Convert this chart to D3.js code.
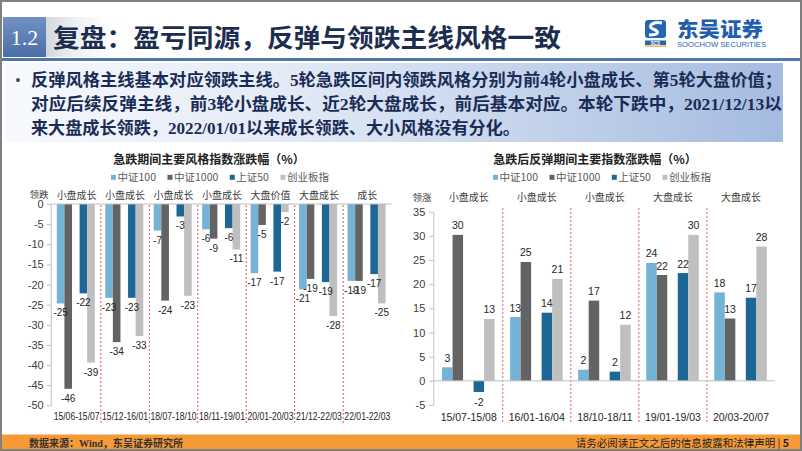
<!DOCTYPE html>
<html><head><meta charset="utf-8">
<script src="https://cdn.jsdelivr.net/npm/d3@7/dist/d3.min.js"></script>
<style>
html,body{margin:0;padding:0;background:#fff;}
svg{display:block;}
</style></head><body>
<svg id="c" width="802" height="451"></svg>
<script>
// ---------- data ----------
const seriesNames = ["中证100", "中证1000", "上证50", "创业板指"];
const seriesColors = ["#74b3d5", "#636363", "#1c6795", "#bfbfbf"];
const seriesSlots = [0, 1, 3, 4];

const dropPeriods = ["15/06-15/07", "15/12-16/01", "18/07-18/10", "18/11-19/01", "20/01-20/03", "21/12-22/03", "22/01-22/03"];
const dropLeaders = ["小盘成长", "小盘成长", "小盘成长", "小盘成长", "大盘价值", "大盘成长", "成长"];
const dropCSI100 = [-24.7, -23.3, -6.6, -6.3, -17.2, -21.2, -19.1];
const dropCSI1000 = [-45.9, -34.3, -24.0, -8.6, -5.2, -18.6, -19.1];
const dropSSE50 = [-22.2, -23.3, -3.1, -6.0, -16.8, -19.4, -17.4];
const dropChiNext = [-39.4, -32.8, -22.8, -11.3, -2.0, -27.8, -24.7];
const dropTicks = [0, -5, -10, -15, -20, -25, -30, -35, -40, -45, -50];

const reboundPeriods = ["15/07-15/08", "16/01-16/04", "18/10-18/11", "19/01-19/03", "20/03-20/07"];
const reboundLeaders = ["小盘成长", "小盘成长", "小盘成长", "大盘成长", "大盘成长"];
const reboundCSI100 = [2.8, 13.2, 2.3, 24.4, 18.3];
const reboundCSI1000 = [30.2, 24.6, 16.6, 21.9, 12.9];
const reboundSSE50 = [-2.3, 14.1, 1.9, 22.3, 17.2];
const reboundChiNext = [12.8, 21.1, 11.6, 30.2, 27.8];
const reboundTicks = [35, 30, 25, 20, 15, 10, 5, 0, -5];

const slideTitle = "复盘：盈亏同源，反弹与领跌主线风格一致";
const bulletLines = [
  "反弹风格主线基本对应领跌主线。5轮急跌区间内领跌风格分别为前4轮小盘成长、第5轮大盘价值；",
  "对应后续反弹主线，前3轮小盘成长、近2轮大盘成长，前后基本对应。本轮下跌中，2021/12/13以",
  "来大盘成长领跌，2022/01/01以来成长领跌、大小风格没有分化。"
];

// ---------- setup ----------
const CJK = "'Noto Sans CJK SC', sans-serif";
const NUM = "Arial, 'Liberation Sans', sans-serif";
const svg = d3.select("#c");
const defs = svg.append("defs");

const gBox = defs.append("linearGradient").attr("id", "boxGrad").attr("x1", "0").attr("x2", "1").attr("y1", "0").attr("y2", "0");
gBox.append("stop").attr("offset", "0").attr("stop-color", "#f7f9fd");
gBox.append("stop").attr("offset", "0.35").attr("stop-color", "#e4ebf6");
gBox.append("stop").attr("offset", "1").attr("stop-color", "#a4bbe0");

const gNum = defs.append("linearGradient").attr("id", "numGrad").attr("x1", "0").attr("x2", "0").attr("y1", "0").attr("y2", "1");
gNum.append("stop").attr("offset", "0").attr("stop-color", "#7191c4");
gNum.append("stop").attr("offset", "1").attr("stop-color", "#4b6ea6");

const gShadow = defs.append("linearGradient").attr("id", "shGrad").attr("x1", "0").attr("x2", "1");
gShadow.append("stop").attr("offset", "0").attr("stop-color", "#c8ccd4").attr("stop-opacity", 0.8);
gShadow.append("stop").attr("offset", "1").attr("stop-color", "#ffffff").attr("stop-opacity", 0);

svg.append("rect").attr("width", 802).attr("height", 451).attr("fill", "#fff");

// ---------- header ----------
svg.append("rect").attr("x", 46).attr("y", 17).attr("width", 80).attr("height", 40).attr("fill", "url(#shGrad)");
svg.append("rect").attr("x", 3).attr("y", 17).attr("width", 43).attr("height", 40).attr("fill", "url(#numGrad)");
svg.append("text").attr("x", 24.5).attr("y", 45).attr("text-anchor", "middle")
  .attr("font-family", "'Liberation Serif', 'Times New Roman', serif").attr("font-size", 22)
  .attr("fill", "#fff").text("1.2");
svg.append("text").attr("x", 53).attr("y", 47)
  .attr("font-family", CJK).attr("font-weight", 700).attr("font-size", 25)
  .attr("fill", "#1c2d4f").attr("textLength", 508).attr("lengthAdjust", "spacingAndGlyphs")
  .text(slideTitle);

// logo
const logo = svg.append("g");
logo.append("rect").attr("x", 645).attr("y", 20).attr("width", 21).attr("height", 18).attr("rx", 3).attr("fill", "#2466b3");
logo.append("path").attr("d", "M662,23 C652,21 647,27 653,29 C659,31 660,35 649,35")
  .attr("fill", "none").attr("stroke", "#fff").attr("stroke-width", 3);
logo.append("rect").attr("x", 645).attr("y", 40.5).attr("width", 21).attr("height", 4.5).attr("fill", "#2466b3");
logo.append("text").attr("x", 655.5).attr("y", 44.5).attr("text-anchor", "middle").attr("font-family", NUM)
  .attr("font-size", 4.5).attr("font-weight", 700).attr("fill", "#fff").text("SCS");
logo.append("rect").attr("x", 645).attr("y", 45.5).attr("width", 21).attr("height", 1.2).attr("fill", "#f39a2b");
logo.append("text").attr("x", 677).attr("y", 37).attr("font-family", CJK).attr("font-weight", 900)
  .attr("font-size", 20).attr("fill", "#1f5fae").attr("textLength", 86).attr("lengthAdjust", "spacingAndGlyphs").text("东吴证券");
logo.append("text").attr("x", 677).attr("y", 47).attr("font-family", NUM)
  .attr("font-size", 7.5).attr("fill", "#2466b3").attr("textLength", 89).attr("lengthAdjust", "spacingAndGlyphs").text("SOOCHOW SECURITIES");

svg.append("rect").attr("x", 0).attr("y", 58).attr("width", 802).attr("height", 3).attr("fill", "#4f76ad");

// ---------- bullet box ----------
svg.append("rect").attr("x", 5).attr("y", 63).attr("width", 778).attr("height", 79).attr("fill", "url(#boxGrad)");
svg.append("text").attr("x", 18).attr("y", 85).attr("text-anchor", "middle").attr("font-family", NUM)
  .attr("font-size", 14).attr("fill", "#4a4a4a").text("•");
const lineBase = [86, 110, 134];
const lineLen = [751, 751, 489];
bulletLines.forEach((t, i) => {
  svg.append("text").attr("x", 31).attr("y", lineBase[i])
    .attr("font-family", "'Liberation Serif', 'Noto Sans CJK SC', serif").attr("font-weight", 700)
    .attr("font-size", 16.5).attr("fill", "#1a2c55")
    .attr("textLength", lineLen[i]).attr("lengthAdjust", "spacingAndGlyphs").text(t);
});

// ---------- chart function ----------
function drawChart(opt) {
  const g = svg.append("g");
  const x = d3.scaleBand().domain(opt.categories).range(opt.xRange);
  const bw = x.bandwidth();
  const slot = d3.scaleBand().domain([0, 1, 2, 3, 4]).range([bw * opt.slotFrom, bw * opt.slotTo]);
  const y = d3.scaleLinear().domain(opt.yDomain).range(opt.yRange);

  // title
  g.append("text").attr("x", opt.titleX).attr("y", 164).attr("text-anchor", "middle")
    .attr("font-family", CJK).attr("font-weight", 700).attr("font-size", 12).attr("fill", "#222")
    .text(opt.title);

  // legend
  let lx = opt.legendX;
  seriesNames.forEach((n, i) => {
    g.append("rect").attr("x", lx).attr("y", 174.8).attr("width", 5).attr("height", 5).attr("fill", seriesColors[i]);
    const t = g.append("text").attr("x", lx + 6.5).attr("y", 181.3)
      .attr("font-family", CJK).attr("font-size", 10.5).attr("fill", "#595959").text(n);
    lx = lx + 6.5 + t.node().getComputedTextLength() + opt.legendGap;
  });

  // lead label
  g.append("text").attr("x", opt.leadX).attr("y", opt.leadY).attr("text-anchor", "middle")
    .attr("font-family", CJK).attr("font-size", 9.5).attr("fill", "#404040").text(opt.leadText);

  // header style labels
  g.selectAll(".hl").data(opt.categories).join("text")
    .attr("x", d => x(d) + bw / 2).attr("y", opt.headY).attr("text-anchor", "middle")
    .attr("font-family", CJK).attr("font-size", 10).attr("fill", "#404040")
    .text((d, i) => opt.leaders[i]);

  // dividers
  g.selectAll(".dv").data(opt.categories.slice(1)).join("line")
    .attr("x1", d => x(d)).attr("x2", d => x(d))
    .attr("y1", opt.divY[0]).attr("y2", opt.divY[1])
    .attr("stroke", "#e0585b").attr("stroke-width", 1).attr("stroke-dasharray", "2,2");

  // bars
  opt.values.forEach((vals, s) => {
    g.selectAll(".b" + s).data(vals).join("rect")
      .attr("x", (v, i) => x(opt.categories[i]) + slot(seriesSlots[s]))
      .attr("width", slot.bandwidth())
      .attr("y", v => Math.min(y(v), y(0)))
      .attr("height", v => Math.abs(y(v) - y(0)))
      .attr("fill", seriesColors[s]);
  });

  // zero line
  g.append("line").attr("x1", opt.axisX).attr("x2", opt.xRange[1]).attr("y1", y(0)).attr("y2", y(0))
    .attr("stroke", "#bfbfbf").attr("stroke-width", 1);

  // value labels
  opt.values.forEach((vals, s) => {
    g.selectAll(".l" + s).data(vals).join("text")
      .attr("x", (v, i) => x(opt.categories[i]) + slot(seriesSlots[s]) + slot.bandwidth() / 2)
      .attr("y", v => v < 0 ? y(v) + opt.negOff : y(v) - opt.posOff)
      .attr("text-anchor", "middle").attr("font-family", NUM).attr("font-size", opt.valSize)
      .attr("fill", "#262626").text(v => String(Math.round(v)));
  });

  // y axis
  const ax = g.append("g").attr("transform", `translate(${opt.axisX},0)`)
    .call(d3.axisLeft(y).tickValues(opt.ticks).tickSize(4).tickSizeOuter(0).tickPadding(opt.tickPad).tickFormat(d => String(d)));
  ax.select(".domain").attr("stroke", "#bfbfbf");
  ax.selectAll(".tick line").attr("stroke", "#bfbfbf");
  ax.selectAll(".tick text").attr("font-family", NUM).attr("font-size", 11).attr("fill", "#404040");

  // category labels
  g.selectAll(".cl").data(opt.categories).join("text")
    .attr("x", d => x(d) + bw / 2).attr("y", opt.catY).attr("text-anchor", "middle")
    .attr("font-family", NUM).attr("font-size", opt.catSize).attr("fill", "#262626")
    .each(function () { if (opt.catLen) d3.select(this).attr("textLength", opt.catLen).attr("lengthAdjust", "spacingAndGlyphs"); })
    .text(d => d);
}

drawChart({
  title: "急跌期间主要风格指数涨跌幅（%）", titleX: 209,
  categories: dropPeriods, leaders: dropLeaders,
  values: [dropCSI100, dropCSI1000, dropSSE50, dropChiNext],
  xRange: [52.4, 391.6], slotFrom: 0.091, slotTo: 0.875,
  yDomain: [-50, 0], yRange: [405.3, 204], ticks: dropTicks,
  axisX: 50.7, tickPad: 3,
  legendX: 111, legendGap: 11.5,
  leadText: "领跌", leadX: 39, leadY: 197.5, headY: 198.8,
  divY: [205, 423],
  negOff: 13, posOff: 5.5, valSize: 10,
  catY: 420, catSize: 10, catLen: 46
});

drawChart({
  title: "急跌后反弹期间主要指数涨跌幅（%）", titleX: 595,
  categories: reboundPeriods, leaders: reboundLeaders,
  values: [reboundCSI100, reboundCSI1000, reboundSSE50, reboundChiNext],
  xRange: [434.7, 775], slotFrom: 0.108, slotTo: 0.88,
  yDomain: [-5, 35], yRange: [405, 211.7], ticks: reboundTicks,
  axisX: 433.3, tickPad: 4,
  legendX: 493, legendGap: 11.5,
  leadText: "领涨", leadX: 422, leadY: 200.5, headY: 201,
  divY: [208, 422],
  negOff: 14, posOff: 5.5, valSize: 10.5,
  catY: 420.5, catSize: 10.5, catLen: null
});

// ---------- footer ----------
svg.append("rect").attr("x", 0).attr("y", 434.5).attr("width", 802).attr("height", 16.5).attr("fill", "#f59a36");
svg.append("text").attr("x", 29).attr("y", 446.5)
  .attr("font-family", "'Liberation Serif', 'Noto Sans CJK SC', serif").attr("font-weight", 700)
  .attr("font-size", 10.5).attr("fill", "#333").attr("textLength", 154).attr("lengthAdjust", "spacingAndGlyphs")
  .text("数据来源：Wind，东吴证券研究所");
const ft = svg.append("text").attr("x", 789).attr("y", 446.5).attr("text-anchor", "end")
  .attr("font-family", CJK).attr("font-size", 10.5).attr("fill", "#222");
ft.append("tspan").text("请务必阅读正文之后的信息披露和法律声明 | ");
ft.append("tspan").attr("font-weight", 700).text("5");

// border
svg.append("rect").attr("x", 1).attr("y", 1).attr("width", 800).attr("height", 449)
  .attr("fill", "none").attr("stroke", "#7f7f7f").attr("stroke-width", 2);
</script>
</body></html>
